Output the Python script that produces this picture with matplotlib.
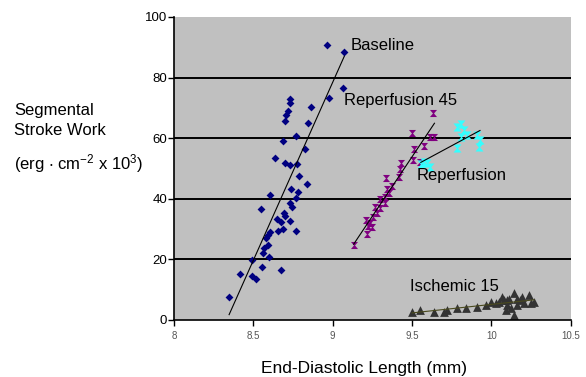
import numpy as np
import matplotlib

matplotlib.use("Agg")
import matplotlib.pyplot as plt
from matplotlib.path import Path

plt.rcParams["font.family"] = ["Liberation Sans", "DejaVu Sans"]
plt.rcParams["mathtext.default"] = "regular"

# Baseline
base_x = [8.964, 9.073, 9.063, 8.979, 8.728, 8.732, 8.863, 8.715, 8.707, 8.699,
          8.844, 8.770, 8.686, 8.823, 8.636, 8.701, 8.728, 8.774, 8.787, 8.837,
          8.734, 8.778, 8.604, 8.770, 8.732, 8.745, 8.551, 8.690, 8.701, 8.648,
          8.732, 8.676, 8.766, 8.686, 8.658, 8.606, 8.595, 8.581, 8.595, 8.568,
          8.560, 8.598, 8.494, 8.556, 8.673, 8.417, 8.490, 8.518, 8.347]
base_y = [90.8, 88.5, 76.5, 73.2, 72.9, 71.5, 70.4, 69.1, 67.6, 65.6,
          64.9, 60.8, 59.0, 56.4, 53.5, 51.9, 51.1, 51.3, 47.6, 44.7,
          43.2, 42.3, 41.2, 40.1, 38.4, 37.3, 36.7, 35.3, 34.2, 33.2,
          32.6, 32.4, 29.3, 29.9, 29.3, 29.1, 28.0, 26.9, 24.7, 23.6,
          21.9, 20.6, 19.7, 17.5, 16.4, 15.1, 14.4, 13.3, 7.4]

# Reperfusion 45
rep45_x = [9.633, 9.500, 9.612, 9.641, 9.574, 9.511, 9.507, 9.549, 9.431, 9.422,
           9.416, 9.338, 9.374, 9.343, 9.353, 9.332, 9.296, 9.332, 9.269, 9.301,
           9.280, 9.254, 9.212, 9.237, 9.220, 9.248, 9.217, 9.132]
rep45_y = [68.2, 61.6, 60.3, 60.3, 57.4, 56.3, 52.8, 52.2, 51.7, 49.7,
           47.2, 46.7, 44.2, 43.1, 41.8, 40.6, 39.9, 38.6, 37.3, 36.8,
           35.1, 34.0, 32.9, 31.8, 30.9, 30.7, 28.3, 24.7]

# Reperfusion
rep_x = [9.555, 9.574, 9.591, 9.612, 9.785, 9.806, 9.827, 9.848, 9.785, 9.806,
         9.911, 9.928, 9.922]
rep_y = [51.5, 52.2, 51.7, 50.5, 63.8, 64.7, 62.7, 61.0, 56.6, 60.5,
         61.0, 59.4, 57.2]

# Ischemic 15
isc_x = [9.500, 9.553, 9.637, 9.700, 9.721, 9.785, 9.837, 9.911, 9.963, 9.995,
         10.026, 10.068, 10.100, 10.142, 10.163, 10.195, 10.237, 10.269, 10.121, 10.142,
         10.090, 10.163, 10.205, 10.047, 10.079, 10.110, 10.247, 10.180, 10.100]
isc_y = [2.6, 3.2, 2.6, 2.6, 3.2, 3.7, 3.7, 4.3, 4.8, 5.9,
         5.4, 7.6, 6.5, 8.7, 7.0, 7.6, 8.1, 5.9, 3.7, 1.5,
         3.2, 4.8, 5.4, 5.9, 6.5, 7.0, 5.4, 6.5, 4.8]

x_ticks = [8, 8.5, 9, 9.5, 10, 10.5]
x_ticklabels = ["8", "8.5", "9", "9.5", "10", "10.5"]
y_ticks = [0, 20, 40, 60, 80, 100]

hourglass = Path([(-1, 1), (1, 1), (0.15, 0), (1, -1), (-1, -1), (-0.15, 0), (-1, 1)],
                 [Path.MOVETO] + [Path.LINETO] * 5 + [Path.CLOSEPOLY])

fig = plt.figure(figsize=(5.86, 3.77), dpi=100)
ax = fig.add_axes([0.297, 0.152, 0.677, 0.803])
ax.set_facecolor("#c0c0c0")

for y in y_ticks[1:-1]:
    ax.axhline(y, color="black", lw=1.4, zorder=1)


def trend(xs, ys, color="black"):
    xs = np.asarray(xs); ys = np.asarray(ys)
    m, b = np.polyfit(xs, ys, 1)
    xx = np.array([xs.min(), xs.max()])
    ax.plot(xx, m * xx + b, color=color, lw=0.8, zorder=3)


ax.scatter(base_x, base_y, marker="D", s=16, color="#000080", zorder=2, linewidths=0)
trend(base_x, base_y)
ax.scatter(rep45_x, rep45_y, marker=hourglass, s=26, color="#800080", zorder=2, linewidths=0)
trend(rep45_x, rep45_y)
ax.scatter(rep_x, rep_y, marker=hourglass, s=34, color="#33ffff", zorder=2, linewidths=0)
trend(rep_x, rep_y)
ax.scatter(isc_x, isc_y, marker="^", s=40, color="#333333", zorder=2, linewidths=0)
trend(isc_x, isc_y, "#4a4a1e")

ax.text(9.11, 90.5, "Baseline", fontsize=12, va="center")
ax.text(9.07, 72.5, "Reperfusion 45", fontsize=12, va="center")
ax.text(9.53, 47.5, "Reperfusion", fontsize=12, va="center")
ax.text(9.49, 11.0, "Ischemic 15", fontsize=12, va="center")

ax.set_xlim(8, 10.5)
ax.set_ylim(0, 100)
ax.set_xticks(x_ticks)
ax.set_xticklabels(x_ticklabels, fontsize=7, color="#555555")
ax.set_yticks(y_ticks)
ax.tick_params(axis="y", labelsize=9.5, length=4, width=1, direction="out", pad=1)
ax.tick_params(axis="x", length=4, width=1, direction="out", pad=4)
for s in ("top", "right"):
    ax.spines[s].set_visible(False)
for s in ("left", "bottom"):
    ax.spines[s].set_linewidth(1.2)

fig.text(14 / 586, 1 - 110 / 377, "Segmental", fontsize=12, va="center")
fig.text(14 / 586, 1 - 131 / 377, "Stroke Work", fontsize=12, va="center")
fig.text(14 / 586, 1 - 164 / 377, r"(erg $\cdot$ cm$^{-2}$ x 10$^{3}$)", fontsize=12, va="center")
fig.text(364 / 586, 1 - 368 / 377, "End-Diastolic Length (mm)", fontsize=12.5, ha="center", va="center")

fig.savefig("out.png", dpi=100, facecolor="white")
